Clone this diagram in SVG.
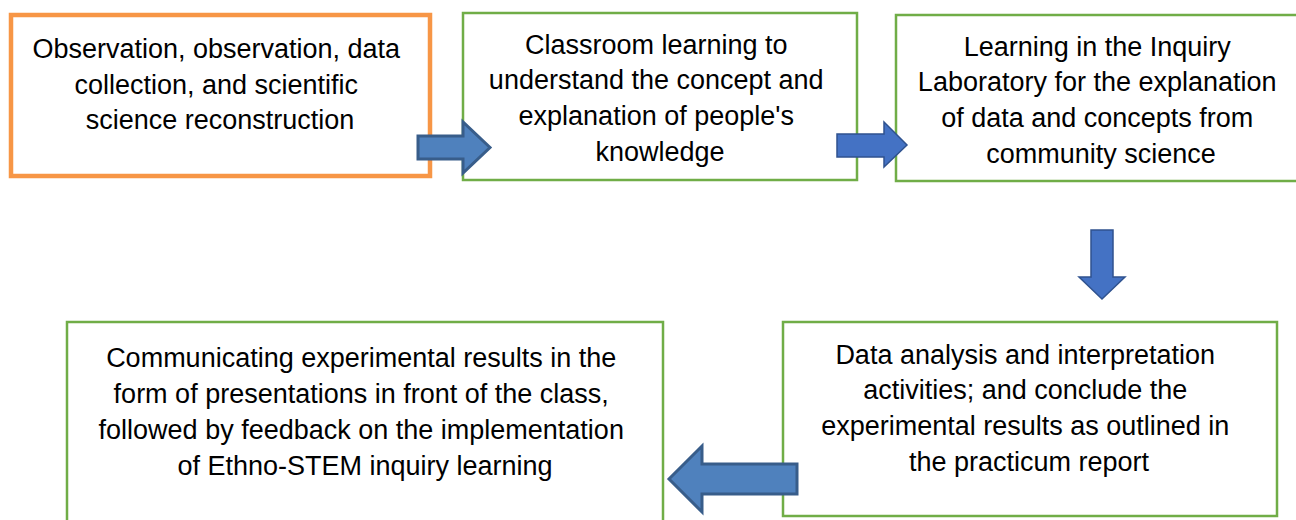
<svg xmlns="http://www.w3.org/2000/svg" width="1296" height="520" viewBox="0 0 1296 520">
  <defs>
    <style>
      .box { fill: #ffffff; stroke: #70AD47; stroke-width: 2.5; }
      .box-start { fill: #ffffff; stroke: #F79646; stroke-width: 4.5; }
      .label { font-family: "Liberation Sans", Arial, sans-serif; font-size: 27px; fill: #000000; text-anchor: middle; }
      .arrow-a { fill: #4F81BD; stroke: #385D8A; stroke-width: 3; stroke-linejoin: miter; }
      .arrow-b { fill: #4472C4; stroke: #2F528F; stroke-width: 1.5; stroke-linejoin: miter; }
    </style>
  </defs>
  <rect width="1296" height="520" fill="#ffffff"/>

  <g id="node-observation">
    <rect class="box-start" x="11" y="15" width="419" height="161"/>
    <text class="label">
      <tspan x="220" y="58">Observation, observation, data</tspan>
      <tspan x="220" y="94">collection, and scientific</tspan>
      <tspan x="220" y="129">science reconstruction</tspan>
    </text>
  </g>

  <g id="node-classroom">
    <rect class="box" x="463" y="13" width="394" height="167"/>
    <text class="label">
      <tspan x="660" y="54">Classroom learning to</tspan>
      <tspan x="660" y="89">understand the concept and</tspan>
      <tspan x="660" y="125">explanation of people's</tspan>
      <tspan x="660" y="161">knowledge</tspan>
    </text>
  </g>

  <g id="node-laboratory">
    <rect class="box" x="896" y="15" width="410" height="166"/>
    <text class="label">
      <tspan x="1101" y="56">Learning in the Inquiry</tspan>
      <tspan x="1101" y="91">Laboratory for the explanation</tspan>
      <tspan x="1101" y="127">of data and concepts from</tspan>
      <tspan x="1101" y="163">community science</tspan>
    </text>
  </g>

  <g id="node-analysis">
    <rect class="box" x="783" y="322" width="494" height="194"/>
    <text class="label">
      <tspan x="1029" y="364">Data analysis and interpretation</tspan>
      <tspan x="1029" y="399">activities; and conclude the</tspan>
      <tspan x="1029" y="435">experimental results as outlined in</tspan>
      <tspan x="1029" y="471">the practicum report</tspan>
    </text>
  </g>

  <g id="node-communicating">
    <rect class="box" x="67" y="322" width="596" height="210"/>
    <text class="label">
      <tspan x="365" y="367">Communicating experimental results in the</tspan>
      <tspan x="365" y="403">form of presentations in front of the class,</tspan>
      <tspan x="365" y="439">followed by feedback on the implementation</tspan>
      <tspan x="365" y="475">of Ethno-STEM inquiry learning</tspan>
    </text>
  </g>

  <g id="connectors">
    <polygon class="arrow-a" points="418,136 463,136 463,122 490,147.5 463,173 463,159 418,159"/>
    <polygon class="arrow-b" points="837,134 884,134 884,122 907,145 884,167 884,157 837,157"/>
    <polygon class="arrow-b" points="1091,230 1113,230 1113,277 1125,277 1102,299 1079,277 1091,277"/>
    <polygon class="arrow-a" points="797,464 702,464 702,446 669,479 702,512 702,494 797,494"/>
  </g>
</svg>
